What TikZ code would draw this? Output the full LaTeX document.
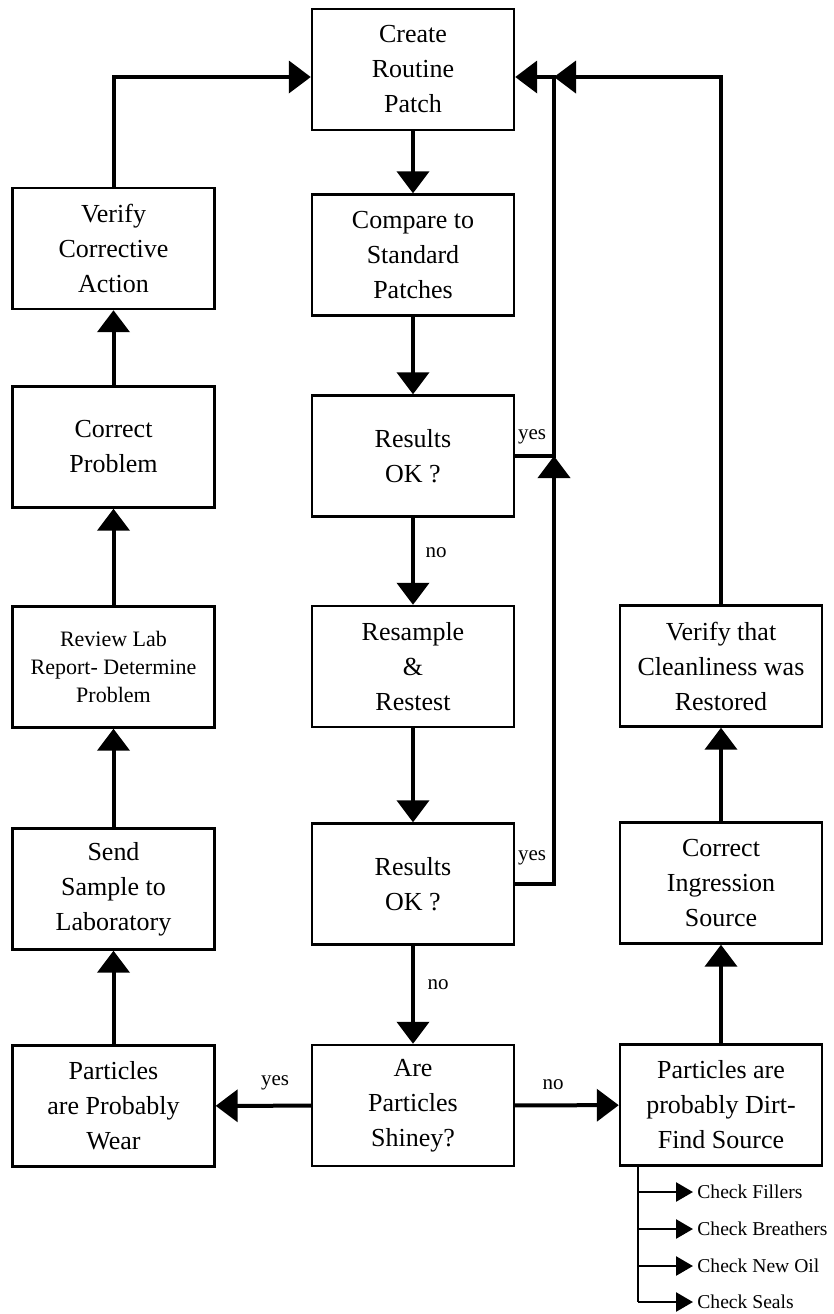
\documentclass[tikz,border=0pt]{standalone}
\usepackage{fontspec}
\setmainfont{Liberation Serif}
\usetikzlibrary{arrows.meta}
\begin{document}
\begin{tikzpicture}[x=0.5pt,y=-0.5pt,
    box/.style={draw,line width=1.2pt,minimum width=101pt,minimum height=60.5pt,inner sep=0pt,align=center,font=\fontsize{13}{17.5}\selectfont},
    smallbox/.style={box,font=\fontsize{11}{14}\selectfont},
    flow/.style={line width=2pt,-{Triangle[length=11pt,width=16pt]}},
    lbl/.style={inner sep=0pt,font=\fontsize{10.5}{12}\selectfont},
    chk/.style={line width=1.3pt,-{Triangle[length=8.5pt,width=9.5pt]}},
    chklbl/.style={anchor=west,inner sep=2pt,font=\fontsize{9.8}{11}\selectfont}]
        \useasboundingbox (0,0) rectangle (834,1314);
        % middle column
        \node[box] (create) at (413,69.5) {Create\\Routine\\Patch};
        \node[box] (compare) at (413,255) {Compare to\\Standard\\Patches};
        \node[box] (res1) at (413,456) {Results\\OK ?};
        \node[box] (resample) at (413,666.5) {Resample\\\&\\Restest};
        \node[box] (res2) at (413,884) {Results\\OK ?};
        \node[box] (shiney) at (413,1105.5) {Are\\Particles\\Shiney?};
        % left column
        \node[box] (verify) at (113.5,248.5) {Verify\\Corrective\\Action};
        \node[box] (corrprob) at (113.5,447) {Correct\\Problem};
        \node[smallbox] (review) at (113.5,667) {Review Lab\\Report- Determine\\Problem};
        \node[box] (send) at (113.5,889) {Send\\Sample to\\Laboratory};
        \node[box] (wear) at (113.5,1106) {Particles\\are Probably\\Wear};
        % right column
        \node[box] (clean) at (721,666) {Verify that\\Cleanliness was\\Restored};
        \node[box] (ingr) at (721,883) {Correct\\Ingression\\Source};
        \node[box] (dirt) at (721,1105) {Particles are\\probably Dirt-\\Find Source};

        \coordinate (jn) at (554,77);
        \draw[flow] (create) -- (compare);
        \draw[flow] (compare) -- (res1);
        \draw[flow] (res1) -- (resample);
        \draw[flow] (resample) -- (res2);
        \draw[flow] (res2) -- (shiney);
        \draw[flow] (shiney) -- (wear);
        \draw[flow] (shiney) -- (dirt);
        \draw[flow] (wear) -- (send);
        \draw[flow] (send) -- (review);
        \draw[flow] (review) -- (corrprob);
        \draw[flow] (corrprob) -- (verify);
        \draw[flow] (dirt) -- (ingr);
        \draw[flow] (ingr) -- (clean);
        \draw[flow] (verify.north) |- (create.west |- jn);
        \draw[flow] (res1.east) -- (res1.east -| jn) -- (jn) -- (create.east |- jn);
        \draw[flow] (res2.east) -- (res2.east -| jn) -- (res1.east -| jn);
        \draw[flow] (clean.north) |- (jn);

        \node[lbl] (yes1) at (532,437) {yes};
        \node[lbl] (no1) at (436,553) {no};
        \node[lbl] (yes2) at (532,858) {yes};
        \node[lbl] (no2) at (438,985) {no};
        \node[lbl] (yes3) at (275,1083) {yes};
        \node[lbl] (no3) at (553,1085) {no};

        % things to check
        \coordinate (br) at (638,1302);
        \draw[line width=1.3pt] (dirt.south -| br) -- (br);
        \foreach \yy/\t [count=\i] in {1192/Fillers,1229/Breathers,1266/New Oil,1302/Seals}{
        \coordinate (br\i) at (638,\yy);
        \node[chklbl] (chk\i) at (693,\yy) {Check \t};
        \draw[chk] (br\i) -- (chk\i.west);
        }
\end{tikzpicture}
\end{document}
